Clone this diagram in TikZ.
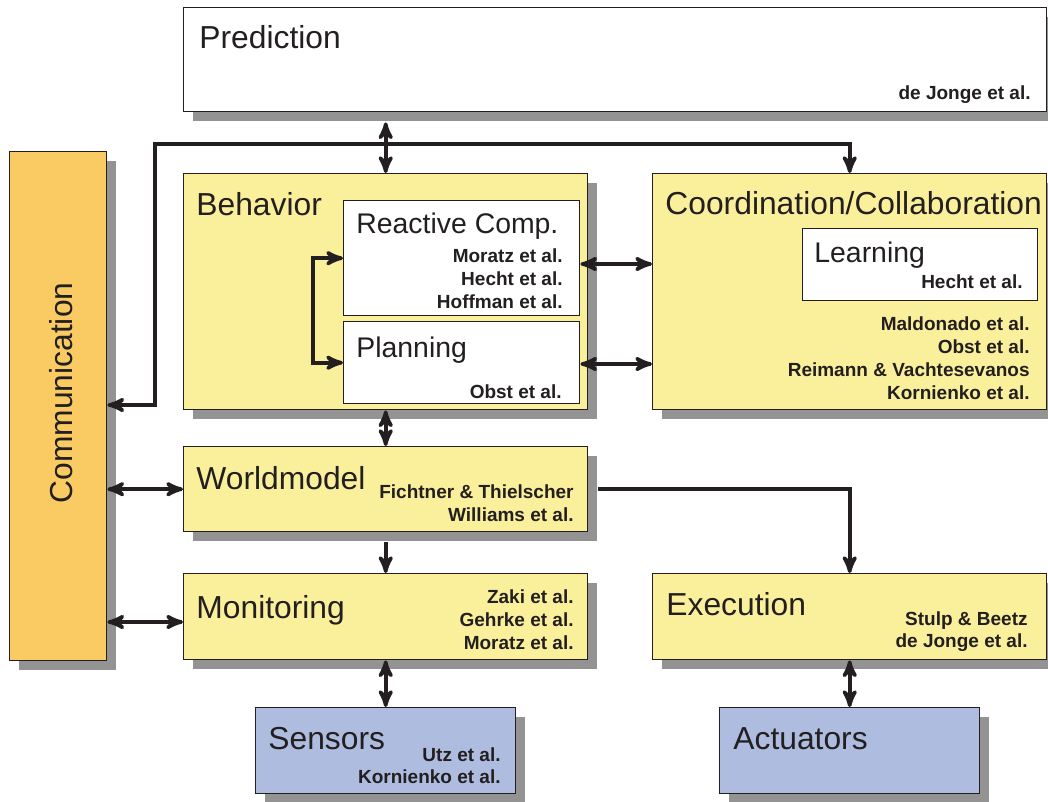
\documentclass[tikz,border=0pt]{standalone}
\usepackage{fontspec}
\setmainfont{Liberation Sans}
\usepackage{tikz}
\usetikzlibrary{arrows,positioning}
\definecolor{boxyellow}{HTML}{FAF09C}
\definecolor{boxorange}{HTML}{FBCB63}
\definecolor{boxblue}{HTML}{AEBDDF}
\definecolor{shadowgray}{HTML}{939393}
\definecolor{linedark}{HTML}{231F20}
\tikzset{
    %Define standard arrow tip
    >=stealth',
    %Define style for boxes
    block/.style={
           rectangle,
           anchor=north west,
           draw=linedark, line width=0.7pt,
           inner sep=0pt},
    yellowbox/.style={
           block,
           fill=boxyellow},
    orangebox/.style={
           block,
           fill=boxorange},
    bluebox/.style={
           block,
           fill=boxblue},
    whitebox/.style={
           block,
           fill=white},
    boxshadow/.style={
           fill=shadowgray},
    % Define text styles
    heading/.style={
           anchor=base west,
           inner sep=0pt,
           text=linedark,
           font=\fontsize{15.9}{18}\selectfont},
    subheading/.style={
           heading,
           font=\fontsize{14.2}{17}\selectfont},
    cite/.style={
           anchor=base east,
           inner sep=0pt,
           text=linedark,
           font=\bfseries\fontsize{9.5}{11}\selectfont},
    % Define arrow style
    pil/.style={
           <->,
           line width=1.8pt,
           draw=linedark},
    pilone/.style={
           ->,
           line width=1.8pt,
           draw=linedark}
}
\begin{document}
\begin{tikzpicture}[x=0.5pt,y=-0.5pt]
\useasboundingbox (0,0) rectangle (1048,802);

% shadows (cut at the page edge)
\fill[boxshadow] (193,17) rectangle (1048,121);
\fill[boxshadow] (19,161) rectangle (116,670);
\fill[boxshadow] (193,183) rectangle (597,419);
\fill[boxshadow] (662,183) rectangle (1048,419);
\fill[boxshadow] (193,456) rectangle (597,541);
\fill[boxshadow] (193,583) rectangle (597,669);
\fill[boxshadow] (662,583) rectangle (1048,669);
\fill[boxshadow] (265,717) rectangle (525,802);
\fill[boxshadow] (729,717) rectangle (989,802);

% boxes
\node[whitebox, minimum width=431.5pt, minimum height=52pt] (pred) at (183,7) {};
\node[orangebox, minimum width=48.5pt, minimum height=254.5pt] (comm) at (9,151) {};
\node[yellowbox, minimum width=202pt, minimum height=118pt] (beh) at (183,173) {};
\node[yellowbox, minimum width=197pt, minimum height=118pt] (coord) at (652,173) {};
\node[yellowbox, minimum width=202pt, minimum height=42.5pt] (world) at (183,446) {};
\node[yellowbox, minimum width=202pt, minimum height=43pt] (monit) at (183,573) {};
\node[yellowbox, minimum width=197pt, minimum height=43pt] (exec) at (652,573) {};
\node[bluebox, minimum width=130pt, minimum height=43pt] (sens) at (255,707) {};
\node[bluebox, minimum width=130pt, minimum height=43pt] (act) at (719,707) {};
\node[whitebox, minimum width=118pt, minimum height=57.5pt] (react) at (343,200) {};
\node[whitebox, minimum width=118pt, minimum height=41pt] (plan) at (343,321) {};
\node[whitebox, minimum width=117.5pt, minimum height=36pt] (learn) at (802,228) {};

% connectors
\coordinate (predfoot) at ([yshift=-5pt]pred.south);
\coordinate (commtop) at (155,144);
\coordinate (commrow) at (0,405);
\coordinate (reactrow) at (0,264);
\coordinate (planrow) at (0,364);
\coordinate (monitrow) at (0,622);
\draw[pil] (predfoot -| beh.north) -- (beh.north);
\draw[pil] (comm.east |- commrow) -| (commtop) -| (coord.north);
\draw[pil] (react.west) -- ++(-30,0) |- (plan.west);
\draw[pil] (react.east |- reactrow) -- (coord.west |- reactrow);
\draw[pil] (plan.east |- planrow) -- (coord.west |- planrow);
\draw[pil] (beh.south) -- (world.north);
\draw[pil] (comm.east |- world.west) -- (world.west);
\draw[pil] (comm.east |- monitrow) -- (monit.west |- monitrow);
\draw[pilone] ([yshift=-5pt]world.south) -- (monit.north);
\draw[pilone] ([xshift=5pt]world.east) -| (exec.north);
\draw[pil] (monit.south) -- (sens.north);
\draw[pil] (exec.south) -- (act.north);

% texts
\node[heading] (pred-t) at (199,49) {Prediction};
\node[cite] (pred-c) at (1031,100) {de Jonge et al.};
\node[heading, anchor=base, rotate=90] (comm-t) at (72,393) {Communication};
\node[heading] (beh-t) at (196,215) {Behavior};
\node[subheading] (react-t) at (356,234) {Reactive Comp.};
\foreach \name [count=\i] in {Moratz et al., Hecht et al., Hoffman et al.}
  \node[cite] (react-c\i) at (563,239+23*\i) {\name};
\node[subheading] (plan-t) at (356,357) {Planning};
\node[cite] (plan-c) at (562,398) {Obst et al.};
\node[heading] (coord-t) at (665,214) {Coordination/Collaboration};
\node[subheading] (learn-t) at (814,262) {Learning};
\node[cite] (learn-c) at (1023,288) {Hecht et al.};
\foreach \name [count=\i] in {Maldonado et al., Obst et al., Reimann \& Vachtesevanos, Kornienko et al.}
  \node[cite] (coord-c\i) at (1030,307+23*\i) {\name};
\node[heading] (world-t) at (196,489) {Worldmodel};
\foreach \name [count=\i] in {Fichtner \& Thielscher, Williams et al.}
  \node[cite] (world-c\i) at (574,475+23*\i) {\name};
\node[heading] (monit-t) at (196,618) {Monitoring};
\foreach \name [count=\i] in {Zaki et al., Gehrke et al., Moratz et al.}
  \node[cite] (monit-c\i) at (574,580+23*\i) {\name};
\node[heading] (exec-t) at (666,615) {Execution};
\foreach \name [count=\i] in {Stulp \& Beetz, de Jonge et al.}
  \node[cite] (exec-c\i) at (1028,603+22*\i) {\name};
\node[heading] (sens-t) at (268,749) {Sensors};
\foreach \name [count=\i] in {Utz et al., Kornienko et al.}
  \node[cite] (sens-c\i) at (501,739+22*\i) {\name};
\node[heading] (act-t) at (733,749) {Actuators};
\end{tikzpicture}
\end{document}
